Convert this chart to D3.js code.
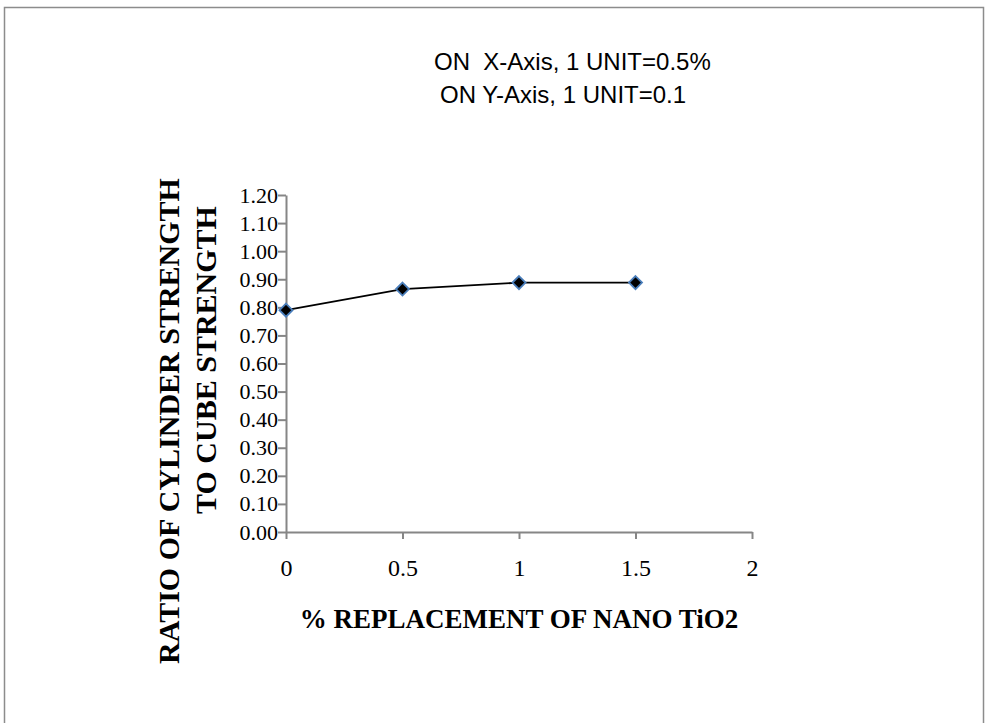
<!DOCTYPE html>
<html>
<head>
<meta charset="utf-8">
<script src="https://cdn.jsdelivr.net/npm/d3@7/dist/d3.min.js"></script>
<style>
  html, body { margin: 0; padding: 0; background: #fff; }
  svg { display: block; }
</style>
</head>
<body>
<script>
// ---- data ----
const xValues = [0, 0.5, 1, 1.5];
const yValues = [0.79, 0.865, 0.888, 0.888];
const xTicks = [0, 0.5, 1, 1.5, 2];
const yTicks = [0, 0.1, 0.2, 0.3, 0.4, 0.5, 0.6, 0.7, 0.8, 0.9, 1.0, 1.1, 1.2];
const noteLines = ["ON  X-Axis, 1 UNIT=0.5%", "ON Y-Axis, 1 UNIT=0.1"];
const xTitle = "% REPLACEMENT OF NANO TiO2";
const yTitleLines = ["RATIO OF CYLINDER STRENGTH", "TO CUBE STRENGTH"];

const W = 985, H = 723;
const svg = d3.select("body").append("svg").attr("width", W).attr("height", H);

// outer chart border
svg.append("rect")
  .attr("x", 4.5).attr("y", 7.5).attr("width", 979).attr("height", 730)
  .attr("fill", "none").attr("stroke", "#8c8c8c").attr("stroke-width", 1.5);

const plot = { left: 286, right: 752, top: 195, bottom: 532 };
const x = d3.scaleLinear().domain([0, 2]).range([plot.left, plot.right]);
const y = d3.scaleLinear().domain([0, 1.2]).range([plot.bottom, plot.top]);

const axisColor = "#868686";
const serif = "'Liberation Serif', 'Times New Roman', serif";

// x axis
const gx = svg.append("g").attr("transform", `translate(0,${plot.bottom})`)
  .call(d3.axisBottom(x).tickValues(xTicks).tickSize(7).tickSizeOuter(0)
    .tickFormat(d => String(d)));
gx.select(".domain").attr("stroke", axisColor).attr("stroke-width", 2);
gx.selectAll(".tick line").attr("stroke", axisColor).attr("stroke-width", 2);
gx.selectAll(".tick text").attr("fill", "#000").attr("font-family", serif)
  .attr("font-size", 24).attr("dy", 0).attr("y", 44);

// y axis
const gy = svg.append("g").attr("transform", `translate(${plot.left},0)`)
  .call(d3.axisLeft(y).tickValues(yTicks).tickSize(8).tickSizeOuter(0)
    .tickFormat(d3.format(".2f")));
gy.select(".domain").attr("stroke", axisColor).attr("stroke-width", 2);
gy.selectAll(".tick line").attr("stroke", axisColor).attr("stroke-width", 2);
gy.selectAll(".tick text").attr("fill", "#000").attr("font-family", serif)
  .attr("font-size", 22).attr("x", -8);

// line
const pts = xValues.map((v, i) => [v, yValues[i]]);
svg.append("path").datum(pts)
  .attr("fill", "none").attr("stroke", "#000").attr("stroke-width", 1.8)
  .attr("d", d3.line().x(d => x(d[0])).y(d => y(d[1])));

// diamond markers
svg.append("g").selectAll("path").data(pts).join("path")
  .attr("transform", d => `translate(${x(d[0])},${y(d[1])})`)
  .attr("d", "M0,-6.5L6.5,0L0,6.5L-6.5,0Z")
  .attr("fill", "#000").attr("stroke", "#4a7ebb").attr("stroke-width", 1.8);

// x title
svg.append("text")
  .attr("x", (plot.left + plot.right) / 2).attr("y", 628)
  .attr("text-anchor", "middle").attr("font-family", serif)
  .attr("font-weight", "bold").attr("font-size", 27).text(xTitle);

// y title (two lines, rotated)
const yt = svg.append("text")
  .attr("transform", "rotate(-90)")
  .attr("text-anchor", "middle").attr("font-family", serif)
  .attr("font-weight", "bold").attr("font-size", 30);
yt.append("tspan").attr("x", -421).attr("y", 179).text(yTitleLines[0]);
yt.append("tspan").attr("x", -360).attr("y", 216).text(yTitleLines[1]);

// annotation
const note = svg.append("text").attr("font-family", "'Liberation Sans', sans-serif")
  .attr("font-size", 24).attr("fill", "#000").style("white-space", "pre");
note.append("tspan").attr("x", 434).attr("y", 70).text(noteLines[0]);
note.append("tspan").attr("x", 440).attr("y", 103).text(noteLines[1]);
</script>
</body>
</html>
